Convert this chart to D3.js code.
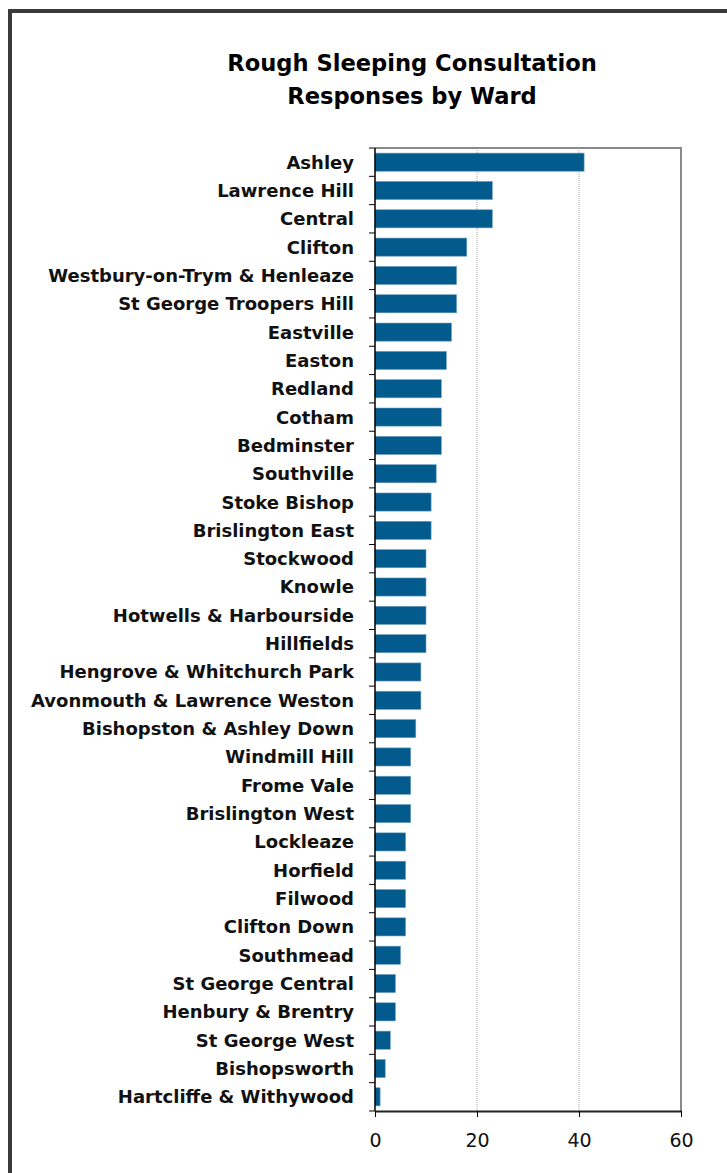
<!DOCTYPE html>
<html>
<head>
<meta charset="utf-8">
<script src="https://cdn.jsdelivr.net/npm/d3@7"></script>
<style>
  html, body { margin: 0; padding: 0; background: #fff; }
  svg { display: block; }
</style>
</head>
<body>
<div id="chart"></div>
<script>
// Ward names, top to bottom
const wards = [
  "Ashley", "Lawrence Hill", "Central", "Clifton", "Westbury-on-Trym & Henleaze",
  "St George Troopers Hill", "Eastville", "Easton", "Redland", "Cotham",
  "Bedminster", "Southville", "Stoke Bishop", "Brislington East", "Stockwood",
  "Knowle", "Hotwells & Harbourside", "Hillfields", "Hengrove & Whitchurch Park",
  "Avonmouth & Lawrence Weston", "Bishopston & Ashley Down", "Windmill Hill",
  "Frome Vale", "Brislington West", "Lockleaze", "Horfield", "Filwood",
  "Clifton Down", "Southmead", "St George Central", "Henbury & Brentry",
  "St George West", "Bishopsworth", "Hartcliffe & Withywood"
];
// Number of consultation responses per ward
const responses = [
  41, 23, 23, 18, 16, 16, 15, 14, 13, 13, 13, 12, 11, 11, 10, 10, 10, 10, 9, 9,
  8, 7, 7, 7, 6, 6, 6, 6, 5, 4, 4, 3, 2, 1
];
const xTicks = [0, 20, 40, 60];
const titleLines = ["Rough Sleeping Consultation", "Responses by Ward"];

const W = 727, H = 1173;
const plot = { left: 375, right: 681, top: 148, bottom: 1111 };
const FONT = "DejaVu Sans, Verdana, sans-serif";

const svg = d3.select("#chart").append("svg")
  .attr("width", W).attr("height", H);

// outer frame
svg.append("rect")
  .attr("x", 10).attr("y", 11)
  .attr("width", W + 20).attr("height", H + 20)
  .attr("fill", "none").attr("stroke", "#3a3a3a").attr("stroke-width", 4);

// title
svg.append("text")
  .attr("x", 412).attr("y", 71)
  .attr("text-anchor", "middle")
  .attr("font-family", FONT)
  .attr("font-weight", "bold").attr("font-size", 22.6).attr("fill", "#000")
  .selectAll("tspan").data(titleLines).join("tspan")
  .attr("x", 412).attr("dy", (d, i) => i ? 33 : 0)
  .text(d => d);

const x = d3.scaleLinear().domain([0, 60]).range([plot.left, plot.right]);
const y = d3.scaleBand().domain(wards).range([plot.top, plot.bottom]).paddingInner(0.36).paddingOuter(0.18);

// gridlines
svg.append("g").selectAll("line").data(xTicks.filter(t => t > 0 && t < 60)).join("line")
  .attr("x1", d => x(d)).attr("x2", d => x(d))
  .attr("y1", plot.top).attr("y2", plot.bottom)
  .attr("stroke", "#a8a8a8").attr("stroke-width", 1).attr("stroke-dasharray", "1,1");

// plot border top/right
svg.append("path")
  .attr("d", `M${plot.left},${plot.top}H${plot.right}V${plot.bottom}`)
  .attr("fill", "none").attr("stroke", "#8a8a8a").attr("stroke-width", 2);

// bars
svg.append("g").selectAll("rect").data(wards).join("rect")
  .attr("x", x(0))
  .attr("y", d => y(d))
  .attr("width", (d, i) => x(responses[i]) - x(0))
  .attr("height", y.bandwidth())
  .attr("fill", "#035a8c")
  .attr("stroke", "#6f9fc0").attr("stroke-width", 0.6);

// y axis
const yAxis = svg.append("g").attr("transform", `translate(${plot.left},0)`);
yAxis.append("line")
  .attr("x1", 0).attr("x2", 0).attr("y1", plot.top).attr("y2", plot.bottom)
  .attr("stroke", "#000").attr("stroke-width", 1.5);
const boundaries = d3.range(wards.length + 1).map(i => plot.top + (plot.bottom - plot.top) * i / wards.length);
yAxis.selectAll("line.tick").data(boundaries).join("line").attr("class", "tick")
  .attr("x1", -6).attr("x2", 0).attr("y1", d => d).attr("y2", d => d)
  .attr("stroke", "#000").attr("stroke-width", 1);
yAxis.selectAll("text").data(wards).join("text")
  .attr("x", -21).attr("y", d => y(d) + y.bandwidth() / 2)
  .attr("dy", "0.36em").attr("text-anchor", "end")
  .attr("font-family", FONT)
  .attr("font-weight", "bold").attr("font-size", 18).attr("fill", "#111")
  .text(d => d);

// x axis
const xAxis = svg.append("g").attr("transform", `translate(0,${plot.bottom})`)
  .call(d3.axisBottom(x).tickValues(xTicks).tickSize(6).tickSizeOuter(0).tickFormat(d3.format("d")));
xAxis.select(".domain").attr("stroke", "#222").attr("stroke-width", 2);
xAxis.selectAll(".tick line").attr("stroke", "#000");
xAxis.selectAll(".tick text")
  .attr("y", 22.5)
  .attr("font-family", FONT)
  .attr("font-size", 19).attr("fill", "#111");
</script>
</body>
</html>
